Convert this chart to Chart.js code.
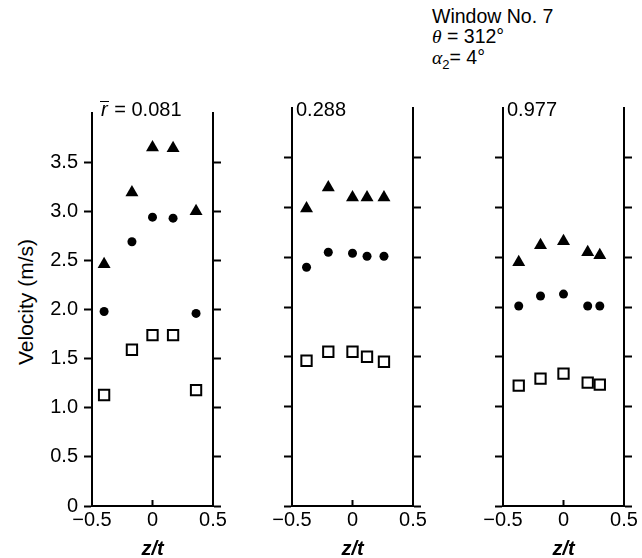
<!DOCTYPE html>
<html>
<head>
<meta charset="utf-8">
<script src="https://cdn.jsdelivr.net/npm/chart.js@4"></script>
<style>
  html, body { margin: 0; padding: 0; background: #fff; }
  #page { position: relative; width: 642px; height: 558px; overflow: hidden; font-family: "Liberation Sans", Arial, sans-serif; color: #000; }
  canvas { position: absolute; top: 95px; }
  .txt { position: absolute; white-space: nowrap; }
  .panel-title { font-size: 20px; line-height: 20px; }
  .xlab { font-size: 20px; line-height: 20px; font-style: italic; font-weight: bold; transform: translateX(-50%); }
  .greek { font-family: "Liberation Serif", serif; font-style: italic; }
  .rbar { display: inline-block; font-style: italic; border-top: 1.5px solid #000; line-height: 14px; padding: 0 1px; }
</style>
</head>
<body>
<div id="page">
  <div class="txt" style="left:432px; top:6px; font-size:19.5px; line-height:20px;">
    Window No. 7<br>
    <span class="greek">θ</span> = 312°<br>
    <span class="greek">α</span><sub style="font-size:13px;">2</sub>= 4°
  </div>
  <div class="txt" style="left:25px; top:302px; font-size:21px; line-height:21px; transform: translate(-50%, -50%) rotate(-90deg);">Velocity (m/s)</div>

  <canvas id="c0" width="231" height="463"></canvas>
  <canvas id="c1" width="231" height="463"></canvas>
  <canvas id="c2" width="231" height="463"></canvas>
</div>

<script>
// z/t positions of the five stations in each window
const zPanel1 = [-0.40, -0.17, 0.00, 0.17, 0.36];
const zPanel2 = [-0.38, -0.20, 0.00, 0.12, 0.26];
const zPanel3 = [-0.37, -0.19, 0.00, 0.20, 0.30];

// velocities (m/s): triangles, circles, squares
const triPanel1 = [2.46, 3.19, 3.65, 3.64, 3.00];
const dotPanel1 = [1.98, 2.69, 2.94, 2.93, 1.96];
const sqPanel1  = [1.13, 1.59, 1.74, 1.74, 1.18];

const triPanel2 = [2.99, 3.20, 3.10, 3.10, 3.10];
const dotPanel2 = [2.40, 2.55, 2.54, 2.51, 2.51];
const sqPanel2  = [1.46, 1.55, 1.55, 1.50, 1.45];

const triPanel3 = [2.45, 2.62, 2.66, 2.55, 2.52];
const dotPanel3 = [2.01, 2.11, 2.13, 2.01, 2.01];
const sqPanel3  = [1.21, 1.28, 1.33, 1.24, 1.22];

const rbarLabels = ['0.081', '0.288', '0.977'];
const yTickValues = [0, 0.5, 1.0, 1.5, 2.0, 2.5, 3.0, 3.5];
const xTickValues = [-0.5, 0, 0.5];

const panels = [
    { z: zPanel1, tri: triPanel1, dot: dotPanel1, sq: sqPanel1, left: 92 },
    { z: zPanel2, tri: triPanel2, dot: dotPanel2, sq: sqPanel2, left: 292 },
    { z: zPanel3, tri: triPanel3, dot: dotPanel3, sq: sqPanel3, left: 503 }
];

const tickFont = { family: '"Liberation Sans", Arial, sans-serif', size: 20 };

// small upward tick at z/t = 0 on the bottom axis
const innerTick = {
    id: 'innerTick',
    afterDraw(chart) {
        const ctx = chart.ctx;
        const x = chart.scales.x.getPixelForValue(0);
        const y = chart.chartArea.bottom;
        ctx.save();
        ctx.strokeStyle = '#000';
        ctx.lineWidth = 2;
        ctx.beginPath();
        ctx.moveTo(x, y);
        ctx.lineTo(x, y - 6);
        ctx.stroke();
        ctx.restore();
    }
};

const toPoints = (xs, ys) => xs.map((x, i) => ({ x: x, y: ys[i] }));

panels.forEach((p, i) => {
    const canvas = document.getElementById('c' + i);
    canvas.style.left = (p.left - 92) + 'px';

    const yAxis = (pos, width, showLabels) => ({
        type: 'linear',
        position: pos,
        min: 0,
        max: 4,
        afterFit: s => { s.width = width; },
        afterBuildTicks: s => { s.ticks = yTickValues.map(v => ({ value: v })); },
        grid: { drawOnChartArea: false, drawTicks: true, tickLength: 8, tickColor: '#000', tickWidth: 2 },
        border: { display: true, color: '#000', width: 2 },
        ticks: {
            display: showLabels,
            color: '#000',
            font: tickFont,
            padding: 6,
            callback: v => v === 0 ? '0' : v.toFixed(1)
        }
    });

    new Chart(canvas.getContext('2d'), {
        type: 'scatter',
        data: {
            datasets: [
                { data: toPoints(p.z, p.tri), pointStyle: 'triangle', pointRadius: 7.5, backgroundColor: '#000', borderColor: '#000', borderWidth: 0 },
                { data: toPoints(p.z, p.dot), pointStyle: 'circle', pointRadius: 4.5, backgroundColor: '#000', borderColor: '#000', borderWidth: 0 },
                { data: toPoints(p.z, p.sq), pointStyle: 'rect', pointRadius: 7.3, backgroundColor: '#fff', borderColor: '#000', borderWidth: 2 }
            ]
        },
        options: {
            responsive: false,
            animation: false,
            layout: { padding: { top: 13, left: 0, right: 0, bottom: 0 } },
            plugins: { legend: { display: false }, tooltip: { enabled: false } },
            scales: {
                x: {
                    type: 'linear',
                    position: 'bottom',
                    min: -0.5,
                    max: 0.5,
                    afterFit: s => { s.height = 52; },
                    afterBuildTicks: s => { s.ticks = xTickValues.map(v => ({ value: v })); },
                    grid: { drawOnChartArea: false, drawTicks: false },
                    border: { display: true, color: '#000', width: 2 },
                    ticks: {
                        color: '#000',
                        font: tickFont,
                        padding: 2,
                        maxRotation: 0,
                        callback: v => v === 0 ? '0' : (v < 0 ? '\u2212' + Math.abs(v).toFixed(1) : v.toFixed(1))
                    }
                },
                y: yAxis('left', 92, i === 0),
                y2: yAxis('right', 18, false)
            }
        },
        plugins: [innerTick]
    });

    const title = document.createElement('div');
    title.className = 'txt panel-title';
    title.style.left = (p.left + (i === 0 ? 8 : 4)) + 'px';
    title.style.top = '99px';
    title.innerHTML = i === 0
        ? '<span class="rbar">r</span> = ' + rbarLabels[i]
        : rbarLabels[i];
    document.getElementById('page').appendChild(title);

    const xlab = document.createElement('div');
    xlab.className = 'txt xlab';
    xlab.style.left = (p.left + 60.5) + 'px';
    xlab.style.top = '538px';
    xlab.textContent = 'z/t';
    document.getElementById('page').appendChild(xlab);
});
</script>
</body>
</html>
